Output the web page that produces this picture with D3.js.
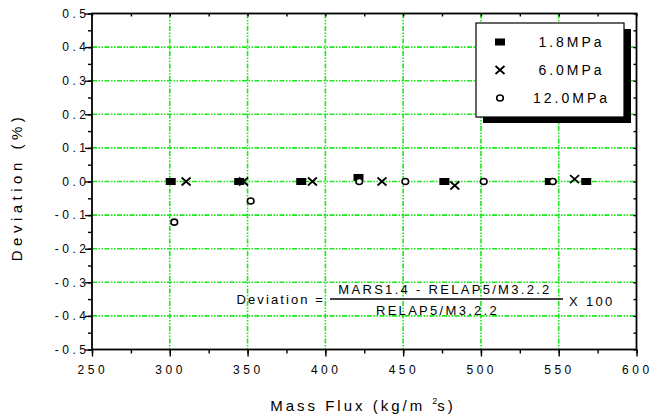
<!DOCTYPE html>
<html>
<head>
<meta charset="utf-8">
<script src="https://cdn.jsdelivr.net/npm/d3@7"></script>
<style>
  body { margin: 0; background: #fff; }
  text { font-family: Arial, "Liberation Sans", sans-serif; fill: #000; }
</style>
</head>
<body>
<div id="chart"></div>
<script>
// values
const flux18 = [300.6, 344.6, 384.5, 421.3, 476.5, 544.3, 567.7];
const dev18  = [0, 0, 0, 0.012, 0, 0, 0];
const flux60 = [310.5, 347.4, 391.7, 436.4, 483.2, 560.2];
const dev60  = [0, 0, 0, 0, -0.012, 0.007];
const flux120 = [302.9, 352.0, 421.8, 451.4, 501.8, 546.2];
const dev120  = [-0.121, -0.058, 0, 0, 0, 0];

const xTicks = [250, 300, 350, 400, 450, 500, 550, 600];
const yTicks = [-0.5, -0.4, -0.3, -0.2, -0.1, 0.0, 0.1, 0.2, 0.3, 0.4, 0.5];
const seriesNames = ["1.8MPa", "6.0MPa", "12.0MPa"];

const W = 652, H = 419;
const svg = d3.select("#chart").append("svg").attr("width", W).attr("height", H);

const plot = {left: 92, right: 636.5, top: 13.5, bottom: 349.5};
const x = d3.scaleLinear().domain([250, 600]).range([plot.left, plot.right]);
const y = d3.scaleLinear().domain([-0.5, 0.5]).range([plot.bottom, plot.top]);

const green = "#1ee81e";
const gridDash = "5,1.5,1.5,1.5,1.5,1.5";

// grid
svg.append("g").selectAll("line").data(xTicks.slice(1, -1)).enter().append("line")
  .attr("x1", d => x(d)).attr("x2", d => x(d)).attr("y1", plot.top).attr("y2", plot.bottom)
  .attr("stroke", green).attr("stroke-width", 1.6).attr("stroke-dasharray", gridDash);
svg.append("g").selectAll("line").data(yTicks.slice(1, -1)).enter().append("line")
  .attr("y1", d => y(d)).attr("y2", d => y(d)).attr("x1", plot.left).attr("x2", plot.right)
  .attr("stroke", green).attr("stroke-width", 1.6).attr("stroke-dasharray", gridDash);

// axes
function styleAxis(g) {
  g.select(".domain").remove();
  g.selectAll("line").attr("stroke", "#000").attr("stroke-width", 1.4);
}
const xMinor = d3.range(250, 601, 25);
const yMinor = d3.range(-0.5, 0.501, 0.05);

svg.append("g").attr("transform", `translate(0,${plot.bottom})`)
  .call(d3.axisBottom(x).tickValues(xMinor).tickSize(4).tickFormat("")).call(styleAxis);
svg.append("g").attr("transform", `translate(0,${plot.bottom})`)
  .call(d3.axisBottom(x).tickValues(xTicks).tickSize(7).tickFormat("")).call(styleAxis);
svg.append("g").attr("transform", `translate(${plot.left},0)`)
  .call(d3.axisLeft(y).tickValues(yMinor).tickSize(4).tickFormat("")).call(styleAxis);
svg.append("g").attr("transform", `translate(${plot.left},0)`)
  .call(d3.axisLeft(y).tickValues(yTicks).tickSize(7).tickFormat("")).call(styleAxis);
svg.append("g").attr("transform", `translate(0,${plot.top})`)
  .call(d3.axisBottom(x).tickValues(xMinor).tickSize(3).tickFormat("")).call(styleAxis);
svg.append("g").attr("transform", `translate(${plot.right},0)`)
  .call(d3.axisLeft(y).tickValues(yMinor).tickSize(3).tickFormat("")).call(styleAxis);

svg.append("rect").attr("x", plot.left).attr("y", plot.top)
  .attr("width", plot.right - plot.left).attr("height", plot.bottom - plot.top)
  .attr("fill", "none").attr("stroke", "#000").attr("stroke-width", 1.8);

// tick labels
const fmt = d => d3.format(".1f")(d).replace("\u2212", "-");
svg.append("g").selectAll("text").data(xTicks).enter().append("text")
  .attr("x", d => x(d) + 0.8).attr("y", 374)
  .attr("text-anchor", "middle").attr("font-size", 12).attr("letter-spacing", 3.5)
  .text(d => d);
svg.append("g").selectAll("text").data(yTicks).enter().append("text")
  .attr("x", 89.5).attr("y", d => y(d) + 4.3)
  .attr("text-anchor", "end").attr("font-size", 12).attr("letter-spacing", 3.5)
  .text(fmt);

// axis titles
const xt = svg.append("text").attr("x", 363).attr("y", 411)
  .attr("text-anchor", "middle").attr("font-size", 15).attr("letter-spacing", 3);
xt.append("tspan").text("Mass Flux (kg/m ");
xt.append("tspan").attr("dy", -7).attr("font-size", 9).attr("letter-spacing", 0).text("2");
xt.append("tspan").attr("dy", 7).text("s)");

svg.append("text").attr("transform", "translate(22,187) rotate(-90)")
  .attr("text-anchor", "middle").attr("font-size", 15).attr("letter-spacing", 4.5)
  .text("Deviation (%)");

// markers
function drawSquare(g, cx, cy) {
  g.append("rect").attr("x", cx - 5).attr("y", cy - 3.5).attr("width", 10).attr("height", 7)
    .attr("fill", "#000");
}
function drawCross(g, cx, cy) {
  g.append("path")
    .attr("d", `M${cx - 4.5},${cy - 4}L${cx + 4.5},${cy + 4}M${cx - 4.5},${cy + 4}L${cx + 4.5},${cy - 4}`)
    .attr("stroke", "#000").attr("stroke-width", 1.8).attr("fill", "none");
}
function drawCircle(g, cx, cy) {
  g.append("ellipse").attr("cx", cx).attr("cy", cy).attr("rx", 3.3).attr("ry", 3)
    .attr("fill", "#fff").attr("stroke", "#000").attr("stroke-width", 1.6);
}

const pts = svg.append("g");
flux18.forEach((f, i) => drawSquare(pts, x(f), y(dev18[i])));
flux120.forEach((f, i) => drawCircle(pts, x(f), y(dev120[i])));
flux60.forEach((f, i) => drawCross(pts, x(f), y(dev60[i])));

// legend
const lg = svg.append("g");
lg.append("rect").attr("x", 483).attr("y", 29).attr("width", 148).attr("height", 94).attr("fill", "#000");
lg.append("rect").attr("x", 476).attr("y", 23).attr("width", 148).attr("height", 94)
  .attr("fill", "#fff").attr("stroke", "#000").attr("stroke-width", 1.2);
const drawers = [drawSquare, drawCross, drawCircle];
seriesNames.forEach((s, i) => {
  const yy = 42 + i * 28;
  drawers[i](lg, 500, yy);
  lg.append("text").attr("x", 571.5).attr("y", yy + 4.5)
    .attr("text-anchor", "middle").attr("font-size", 14).attr("letter-spacing", 3).text(s);
});

// formula annotation
const fa = svg.append("g");
fa.append("text").attr("x", 236.5).attr("y", 304).attr("font-size", 13).attr("letter-spacing", 2.1)
  .text("Deviation =");
fa.append("line").attr("x1", 330).attr("x2", 563).attr("y1", 299).attr("y2", 299)
  .attr("stroke", "#000").attr("stroke-width", 1.4);
fa.append("text").attr("x", 445).attr("y", 294).attr("text-anchor", "middle")
  .attr("font-size", 13).attr("letter-spacing", 2.3).text("MARS1.4 - RELAP5/M3.2.2");
fa.append("text").attr("x", 437.5).attr("y", 315).attr("text-anchor", "middle")
  .attr("font-size", 13).attr("letter-spacing", 2.3).text("RELAP5/M3.2.2");
fa.append("text").attr("x", 569).attr("y", 306).attr("font-size", 13).attr("letter-spacing", 2.3)
  .text("X 100");
</script>
</body>
</html>
